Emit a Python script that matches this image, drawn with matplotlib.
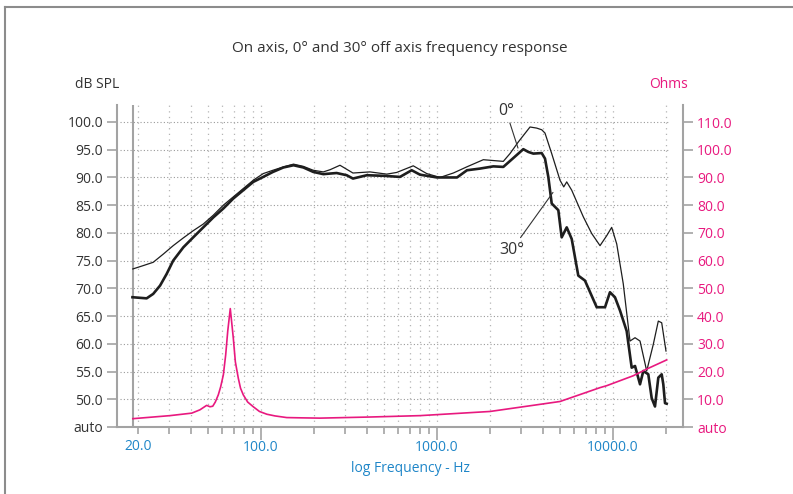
import matplotlib
matplotlib.use("Agg")
import matplotlib.pyplot as plt
from matplotlib.lines import Line2D
from matplotlib.ticker import FixedLocator, FixedFormatter

plt.rcParams['font.family'] = ['Open Sans', 'DejaVu Sans']

# ---------------- data ----------------
# 0 degree (thin line)
freq_0 = [18.7, 21.4, 24.4, 27.9, 31.7, 36.2, 41.2, 47.0, 53.6, 61.1, 69.6, 79.3, 90.4,
          103, 117, 134, 153, 174, 198, 226, 247, 281, 333, 416, 518, 590, 733, 874,
          1040, 1238, 1475, 1833, 2381, 2598, 2897, 3377, 3686, 3935, 4108, 4485,
          4999, 5250, 5458, 5827, 6781, 7565, 8438, 9210, 9830, 10500, 11440, 12490,
          13340, 14240, 15540, 16940, 18090, 18910, 20000]
spl_0 = [73.5, 74.1, 74.7, 76.2, 77.7, 79.1, 80.4, 81.6, 83.2, 85.0, 86.5, 88.0, 89.5,
         90.7, 91.3, 91.9, 92.4, 92.0, 91.3, 91.0, 91.4, 92.2, 90.8, 91.0, 90.6, 90.9,
         92.1, 90.7, 90.0, 90.8, 91.9, 93.2, 92.9, 94.3, 96.4, 99.1, 98.9, 98.6, 98.0,
         94.3, 89.5, 88.3, 89.2, 87.7, 82.9, 79.9, 77.7, 79.5, 81.0, 78.0, 70.8, 60.5,
         61.1, 60.5, 55.1, 59.9, 64.1, 63.8, 58.7]

# 30 degree (thick line)
freq_30 = [18.6, 22.4, 24.4, 26.7, 29.1, 31.7, 36.2, 41.2, 47.0, 53.6, 61.1, 69.6, 79.3,
           90.4, 103, 117, 134, 153, 174, 198, 226, 269, 307, 333, 399, 495, 616, 718,
           801, 1000, 1299, 1481, 1755, 2089, 2381, 2714, 3093, 3303, 3526, 3935, 4108,
           4290, 4485, 4890, 5110, 5458, 5827, 6350, 6930, 8080, 9010, 9610, 10260,
           10960, 11960, 12770, 13340, 14240, 14870, 15870, 16590, 17320, 18090, 18910,
           19310, 19750, 20190]
spl_30 = [68.4, 68.2, 69.0, 70.5, 72.6, 75.0, 77.4, 79.2, 81.0, 82.8, 84.4, 86.2, 87.7,
          89.2, 90.1, 91.0, 91.8, 92.2, 91.8, 91.0, 90.6, 90.8, 90.4, 89.8, 90.4, 90.3,
          90.1, 91.3, 90.5, 90.0, 90.0, 91.3, 91.6, 92.0, 91.9, 93.5, 95.1, 94.6, 94.3,
          94.4, 93.4, 90.1, 85.3, 84.1, 79.2, 81.0, 78.9, 72.3, 71.4, 66.6, 66.6, 69.3,
          68.4, 66.0, 62.3, 55.7, 56.0, 52.7, 55.1, 54.5, 50.2, 48.7, 53.9, 54.5, 52.7,
          49.3, 49.2]

# impedance
freq_imp = [18.7, 30.4, 40.4, 45.0, 49.1, 51.3, 53.2, 55.0, 57.2, 59.0, 61.1, 63.0, 64.7,
            66.9, 69.6, 71.5, 74.3, 76.5, 79.3, 84.0, 90.4, 98.0, 108, 120, 140, 170, 216,
            416, 801, 2000, 3686, 5000, 8438, 9210, 13050, 15540, 20190]
ohms = [3.0, 4.1, 5.0, 6.2, 7.8, 7.3, 7.5, 9.0, 11.6, 14.5, 18.8, 26.0, 34.5, 42.7, 32.1,
        23.5, 17.6, 14.0, 11.6, 9.0, 7.3, 5.6, 4.6, 4.0, 3.4, 3.3, 3.2, 3.6, 4.1, 5.6,
        8.0, 9.2, 14.2, 14.9, 18.5, 20.9, 24.2]

spl_ticks = [45, 50, 55, 60, 65, 70, 75, 80, 85, 90, 95, 100]
spl_labels = ['auto', '50.0', '55.0', '60.0', '65.0', '70.0', '75.0', '80.0', '85.0',
              '90.0', '95.0', '100.0']
ohm_ticks = [0, 10, 20, 30, 40, 50, 60, 70, 80, 90, 100, 110]
ohm_labels = ['auto', '10.0', '20.0', '30.0', '40.0', '50.0', '60.0', '70.0', '80.0',
              '90.0', '100.0', '110.0']
freq_major = [100, 1000, 10000]
freq_major_labels = ['100.0', '1000.0', '10000.0']
freq_minor = [20, 30, 40, 50, 60, 70, 80, 90, 200, 300, 400, 500, 600, 700, 800, 900,
              2000, 3000, 4000, 5000, 6000, 7000, 8000, 9000, 20000]
freq_minor_labels = ['20.0'] + [''] * 24
grid_freqs = [20, 30, 40, 50, 60, 70, 80, 90, 100, 200, 300, 400, 500, 600, 700, 800, 900,
              1000, 2000, 3000, 4000, 5000, 6000, 7000, 8000, 9000, 10000, 20000]

# ---------------- style ----------------
W, H = 793, 494
GRAY = '#a3a3a3'
DARK = '#333333'
PINK = '#e8197f'
BLUE = '#1f86c8'
CURVE = '#1e1e1e'

fig = plt.figure(figsize=(W / 100, H / 100), dpi=100)
L, R, T, B = 117, 683, 105, 427
ax = fig.add_axes([L / W, 1 - B / H, (R - L) / W, (B - T) / H])
ax.set_xscale('log')
xmin = 10 ** (2 + (L - 261) / 176)
xmax = 10 ** (2 + (R - 261) / 176)
ax.set_xlim(xmin, xmax)
ppd = (B - 122) / 55.0
ymax = 100 + (122 - T) / ppd
ax.set_ylim(45, ymax)

ax2 = ax.twinx()
ax2.set_ylim(2 * 45 - 90, 2 * ymax - 90)

for a in (ax, ax2):
    a.patch.set_visible(False)
    for s in a.spines.values():
        s.set_color(GRAY)
        s.set_linewidth(1.5)
    a.spines['top'].set_visible(False)
ax.spines['right'].set_visible(False)
ax2.spines['left'].set_visible(False)
ax2.spines['bottom'].set_visible(False)

# grid
gx0 = 10 ** (2 + (120 - 261) / 176)
gx1 = 10 ** (2 + (668 - 261) / 176)
ax.hlines(spl_ticks[1:], gx0, gx1, colors='#9a9a9a', linestyles=(0, (1, 2)), lw=0.8, zorder=1)
ax.vlines(grid_freqs, 45, ymax, colors='#b4b4b4', linestyles=(0, (1, 3.5)), lw=0.9, zorder=1)
# measurement start line
ax.axvline(freq_0[0], color=GRAY, lw=1.5, zorder=1)

# curves
ax.plot(freq_0, spl_0, color=CURVE, lw=0.9, zorder=3)
ax.plot(freq_30, spl_30, color=CURVE, lw=1.9, zorder=3)
ax2.plot(freq_imp, ohms, color=PINK, lw=1.2, zorder=3)

# ticks
ax.yaxis.set_major_locator(FixedLocator(spl_ticks))
ax.yaxis.set_major_formatter(FixedFormatter(spl_labels))
ax.tick_params(axis='y', which='major', length=7, width=1.2, color=GRAY, pad=3,
               labelsize=10, labelcolor=DARK)
ax2.yaxis.set_major_locator(FixedLocator(ohm_ticks))
ax2.yaxis.set_major_formatter(FixedFormatter(ohm_labels))
ax2.tick_params(axis='y', which='major', length=7, width=1.2, color=GRAY, pad=3,
                labelsize=10, labelcolor=PINK)
ax2.tick_params(axis='y', which='minor', length=0)

ax.xaxis.set_major_locator(FixedLocator(freq_major))
ax.xaxis.set_major_formatter(FixedFormatter(freq_major_labels))
ax.xaxis.set_minor_locator(FixedLocator(freq_minor))
ax.xaxis.set_minor_formatter(FixedFormatter(freq_minor_labels))
ax.tick_params(axis='x', which='major', length=9, width=1.2, color=GRAY, pad=0.5,
               labelsize=10, labelcolor=BLUE)
ax.tick_params(axis='x', which='minor', length=5, width=1.2, color=GRAY, pad=3.5,
               labelsize=10, labelcolor=BLUE)
ax.yaxis.set_minor_locator(FixedLocator([]))

# texts
fig.text(400 / W, 1 - 48 / H, 'On axis, 0° and 30° off axis frequency response',
         ha='center', va='center', fontsize=11, color=DARK)
fig.text(97 / W, 1 - 84 / H, 'dB SPL', ha='center', va='center', fontsize=10, color=DARK)
fig.text(669 / W, 1 - 84 / H, 'Ohms', ha='center', va='center', fontsize=10, color=PINK)
fig.text(411 / W, 1 - 468 / H, 'log Frequency - Hz', ha='center', va='center',
         fontsize=10, color=BLUE)

ax.annotate('0°', xy=(2885, 95.3), xytext=(2466, 102.0), ha='center', va='center',
            fontsize=11.5, color=DARK,
            arrowprops=dict(arrowstyle='-', color=DARK, lw=0.8, shrinkA=1, shrinkB=0))
ax.annotate('30°', xy=(4560, 87.3), xytext=(2667, 77.0), ha='center', va='center',
            fontsize=11.5, color=DARK,
            arrowprops=dict(arrowstyle='-', color=DARK, lw=0.8, shrinkA=1, shrinkB=0))

# outer frame
fig.add_artist(Line2D([5 / W, 5 / W], [0, 1 - 7 / H], transform=fig.transFigure,
                      color='#8c8c8c', lw=1.5))
fig.add_artist(Line2D([5 / W, 1], [1 - 7 / H, 1 - 7 / H], transform=fig.transFigure,
                      color='#8c8c8c', lw=1.5))

fig.savefig('out.png', dpi=100)
